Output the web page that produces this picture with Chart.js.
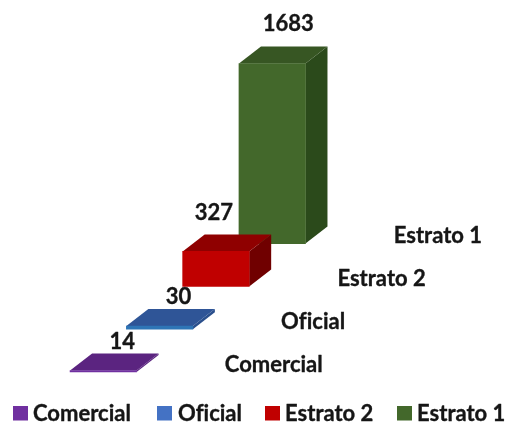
<!DOCTYPE html>
<html>
<head>
<meta charset="utf-8">
<style>html,body{margin:0;padding:0;background:#fff}canvas{display:block}</style>
<script src="https://cdn.jsdelivr.net/npm/chart.js@4"></script>
</head>
<body>
<canvas id="c" width="507" height="423"></canvas>
<script>
const categories = ['Comercial', 'Oficial', 'Estrato 2', 'Estrato 1'];
const values = [14, 30, 327, 1683];
const frontColors = ['#7030A0', '#2E75B6', '#C00000', '#43682B'];
const topColors = ['#5B2480', '#2F5597', '#8F0000', '#375623'];
const sideColors = ['#5B2480', '#2A4F8C', '#700000', '#2B4A1B'];
const legendColors = ['#7030A0', '#4472C4', '#C00000', '#43682B'];

// Depth rows of the 3D chart, in value units along y, one row per series
const ROW_STEP = 400;
const DEPTH_X = 22, DEPTH_Y = 17;
const FONT = 'bold 22px Lato, sans-serif';
const TEXT = '#161616';
const valueLabelOffsets = [[19, -29], [19, -29], [-2, -39], [16, -40]];
const legendLayout = [[13, 33], [157, 178], [265, 285], [397, 417]];

const prism = {
  id: 'prism',
  beforeDatasetDraw(chart, args) {
    const bar = args.meta.data[0], i = args.index, c = chart.ctx;
    const l = bar.x - bar.width / 2, r = bar.x + bar.width / 2, t = bar.y, b = bar.base;
    const poly = (pts, col) => {
      c.beginPath();
      pts.forEach((p, k) => k ? c.lineTo(p[0], p[1]) : c.moveTo(p[0], p[1]));
      c.closePath(); c.fillStyle = col; c.fill();
    };
    poly([[r, t], [r + DEPTH_X, t - DEPTH_Y], [r + DEPTH_X, b - DEPTH_Y], [r, b]], sideColors[i]);
    poly([[l, t], [l + DEPTH_X, t - DEPTH_Y], [r + DEPTH_X, t - DEPTH_Y], [r, t]], topColors[i]);
  },
  afterDatasetsDraw(chart) {
    const c = chart.ctx, xs = chart.scales.x, ys = chart.scales.y;
    c.save();
    c.font = FONT; c.textBaseline = 'middle';
    c.letterSpacing = '0.01px';
    c.strokeStyle = TEXT; c.lineWidth = 0.35; c.lineJoin = 'round';
    const label = (txt, x, y) => { c.fillStyle = TEXT; c.fillText(txt, x, y); c.strokeText(txt, x, y); };
    categories.forEach((name, i) => {
      const bar = chart.getDatasetMeta(i).data[0];
      c.textAlign = 'center';
      label(String(values[i]), bar.x + valueLabelOffsets[i][0], bar.y + valueLabelOffsets[i][1]);
      c.textAlign = 'left';
      label(name, xs.getPixelForValue(i) + 121.5, ys.getPixelForValue(i * ROW_STEP) - 7.5);
      c.fillStyle = legendColors[i];
      c.fillRect(legendLayout[i][0], 406, 15, 14.5);
      label(name, legendLayout[i][1], 414);
    });
    c.restore();
  }
};

new Chart(document.getElementById('c'), {
  type: 'bar',
  data: {
    datasets: categories.map((name, i) => ({
      label: name,
      data: [{ x: i, y: [i * ROW_STEP, i * ROW_STEP + values[i]] }],
      backgroundColor: frontColors[i],
      borderWidth: 0,
      barThickness: 66.5,
      grouped: false
    }))
  },
  options: {
    responsive: false,
    animation: false,
    layout: { padding: 0 },
    plugins: { legend: { display: false }, tooltip: { enabled: false } },
    scales: {
      x: { type: 'linear', display: false, offset: false, min: -1.835, max: 7.17 },
      y: { display: false, min: -476.6, max: 3476.6 }
    }
  },
  plugins: [prism]
});
</script>
</body>
</html>
